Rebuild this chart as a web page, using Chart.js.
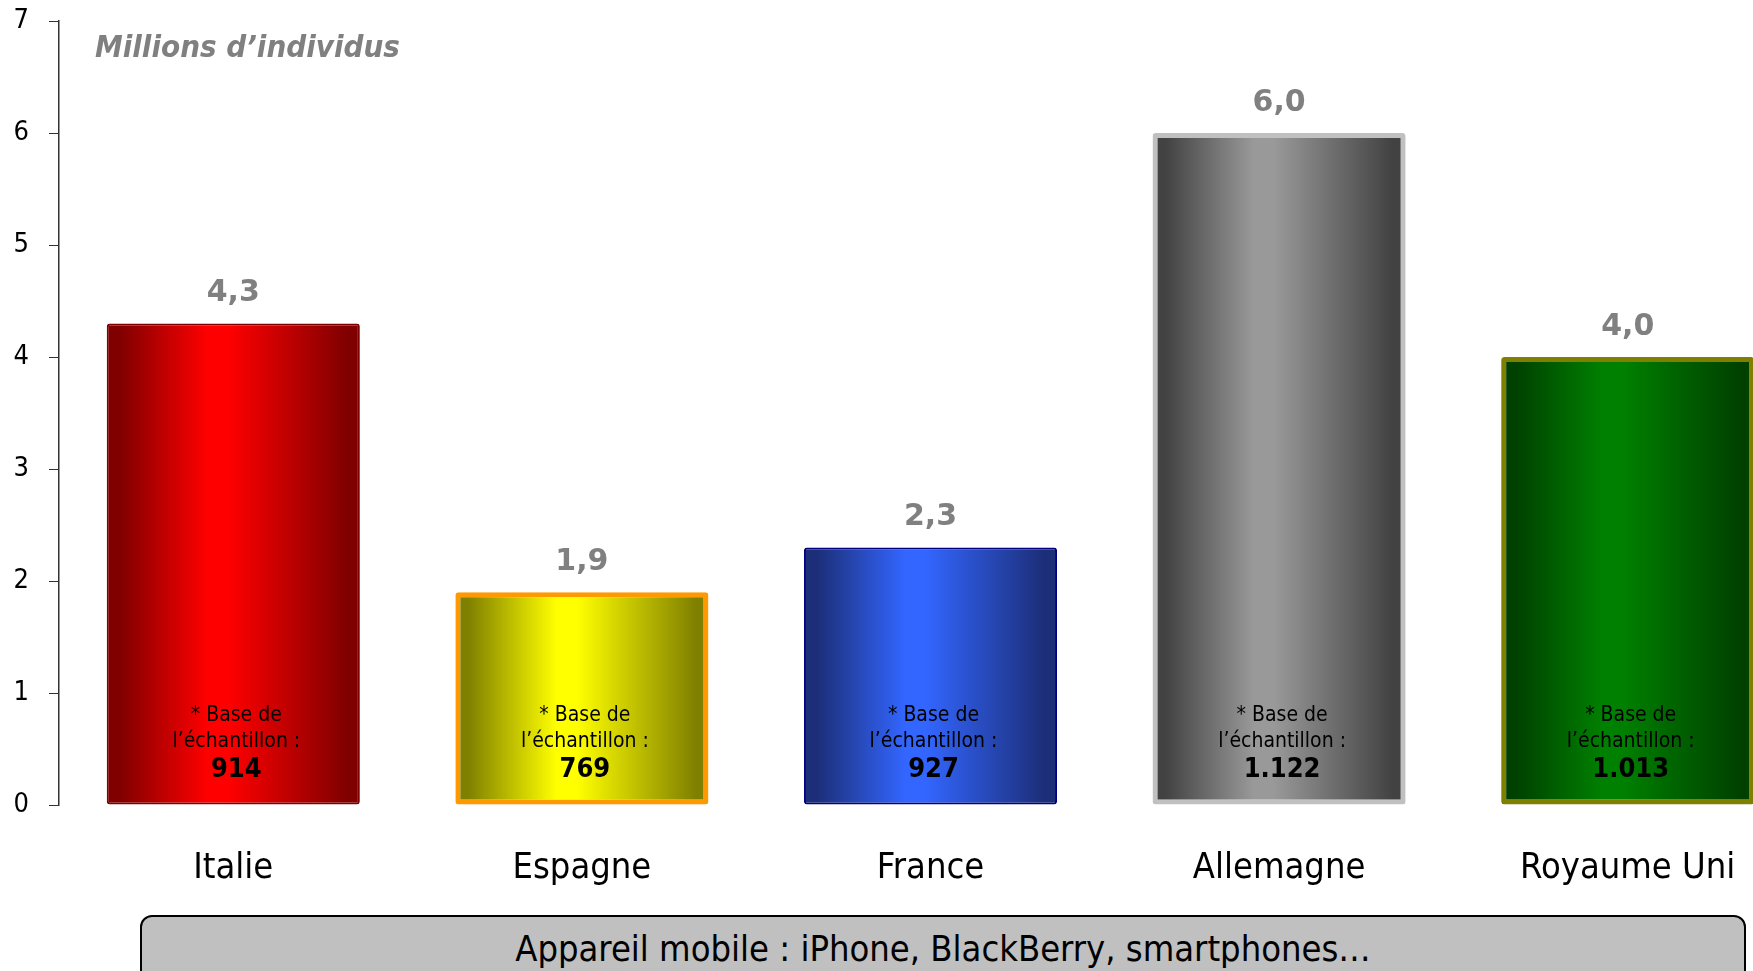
<!DOCTYPE html>
<html>
<head>
<meta charset="utf-8">
<script src="https://cdn.jsdelivr.net/npm/chart.js@4.4.0/dist/chart.umd.min.js"></script>
<style>
  html, body { margin:0; padding:0; background:#fff; overflow:hidden; }
  #wrap { position:relative; width:1802px; height:971px; }
  #title {
    position:absolute; left:95px; top:28px;
    font-family:"DejaVu Sans Condensed","DejaVu Sans",sans-serif;
    font-weight:bold; font-style:italic; font-size:31px; color:#808080;
    white-space:nowrap;
  }
  #footer {
    position:absolute; left:140px; top:915px; width:1606px; height:80px;
    background:#c0c0c0; border:2px solid #000; border-radius:12px;
    box-sizing:border-box;
    font-family:"DejaVu Sans Condensed","DejaVu Sans",sans-serif;
    font-size:36px; color:#000; text-align:center; line-height:64px;
  }
</style>
</head>
<body>
<div id="wrap">
  <canvas id="chart" width="1802" height="971"></canvas>
  <div id="title">Millions d’individus</div>
  <div id="footer">Appareil mobile : iPhone, BlackBerry, smartphones…</div>
</div>
<script>
/* data */
const countries = ['Italie','Espagne','France','Allemagne','Royaume Uni'];
const millions = [4.3, 1.9, 2.3, 6.0, 4.0];
const sampleBase = ['914','769','927','1.122','1.013'];
const yTicks = [0,1,2,3,4,5,6,7];

/* styling per bar: dark edge, bright centre, border */
const darkCols = ['#800000','#808000','#1c2e78','#424242','#004000'];
const brightCols = ['#ff0000','#ffff00','#3366ff','#999999','#008000'];
const borderCols = ['#800000','#ff9900','#000080','#c0c0c0','#808000'];
const borderWidths = [2,5,2,5,5];

const BAR_PCT = 0.726;
const FONT = '"DejaVu Sans Condensed","DejaVu Sans",sans-serif';

function barGradient(c){
  const chart = c.chart;
  const xs = chart.scales.x;
  if(!xs || !chart.chartArea) return brightCols[c.dataIndex];
  const cx = xs.getPixelForValue(c.dataIndex);
  const w = (xs.width / countries.length) * BAR_PCT;
  const g = chart.ctx.createLinearGradient(cx - w/2, 0, cx + w/2, 0);
  const d = darkCols[c.dataIndex], b = brightCols[c.dataIndex];
  g.addColorStop(0, d);
  g.addColorStop(0.05, d);
  g.addColorStop(0.4, b);
  g.addColorStop(0.48, b);
  g.addColorStop(0.95, d);
  g.addColorStop(1, d);
  return g;
}

/* labels above and inside the bars */
const barText = {
  id:'barText',
  afterDatasetsDraw(chart){
    const ctx = chart.ctx;
    const meta = chart.getDatasetMeta(0);
    const y0 = chart.scales.y.getPixelForValue(0);
    ctx.save();
    ctx.textAlign = 'center';
    ctx.textBaseline = 'middle';
    meta.data.forEach((bar, i) => {
      ctx.fillStyle = '#808080';
      ctx.font = 'bold 30px "DejaVu Sans",sans-serif';
      ctx.fillText(millions[i].toFixed(1).replace('.', ','), bar.x, bar.y - 30);
      ctx.fillStyle = '#000';
      ctx.font = '21px ' + FONT;
      ctx.fillText('* Base de', bar.x + 3, y0 - 89);
      ctx.fillText('l’échantillon :', bar.x + 3, y0 - 63);
      ctx.font = 'bold 27px ' + FONT;
      ctx.fillText(sampleBase[i], bar.x + 3, y0 - 35);
    });
    ctx.restore();
  }
};

new Chart(document.getElementById('chart'), {
  type:'bar',
  data:{
    labels: countries,
    datasets:[{
      data: millions,
      backgroundColor: barGradient,
      borderColor: borderCols,
      borderWidth: borderWidths,
      borderRadius: 3,
      borderSkipped: false,
      barPercentage: BAR_PCT,
      categoryPercentage: 1
    }]
  },
  options:{
    responsive:false,
    animation:false,
    layout:{ padding:{ top:21, left:0, right:0, bottom:0 } },
    plugins:{ legend:{display:false}, tooltip:{enabled:false} },
    scales:{
      x:{
        grid:{ display:false },
        border:{ display:false },
        ticks:{ color:'#000', font:{ family:FONT, size:36 }, padding:34, maxRotation:0 },
        afterFit(s){ s.height = 166; }
      },
      y:{
        min:0, max:7,
        afterBuildTicks(s){ s.ticks = yTicks.map(v => ({value:v})); },
        grid:{ drawOnChartArea:false, drawTicks:true, tickLength:10, color:'#333' },
        border:{ display:true, color:'#333', width:1.5 },
        ticks:{ color:'#000', font:{ family:FONT, size:27 }, padding:20 },
        afterFit(s){ s.width = 59; s.paddingTop = 0; s.paddingBottom = 0; }
      }
    }
  },
  plugins:[barText]
});
</script>
</body>
</html>
